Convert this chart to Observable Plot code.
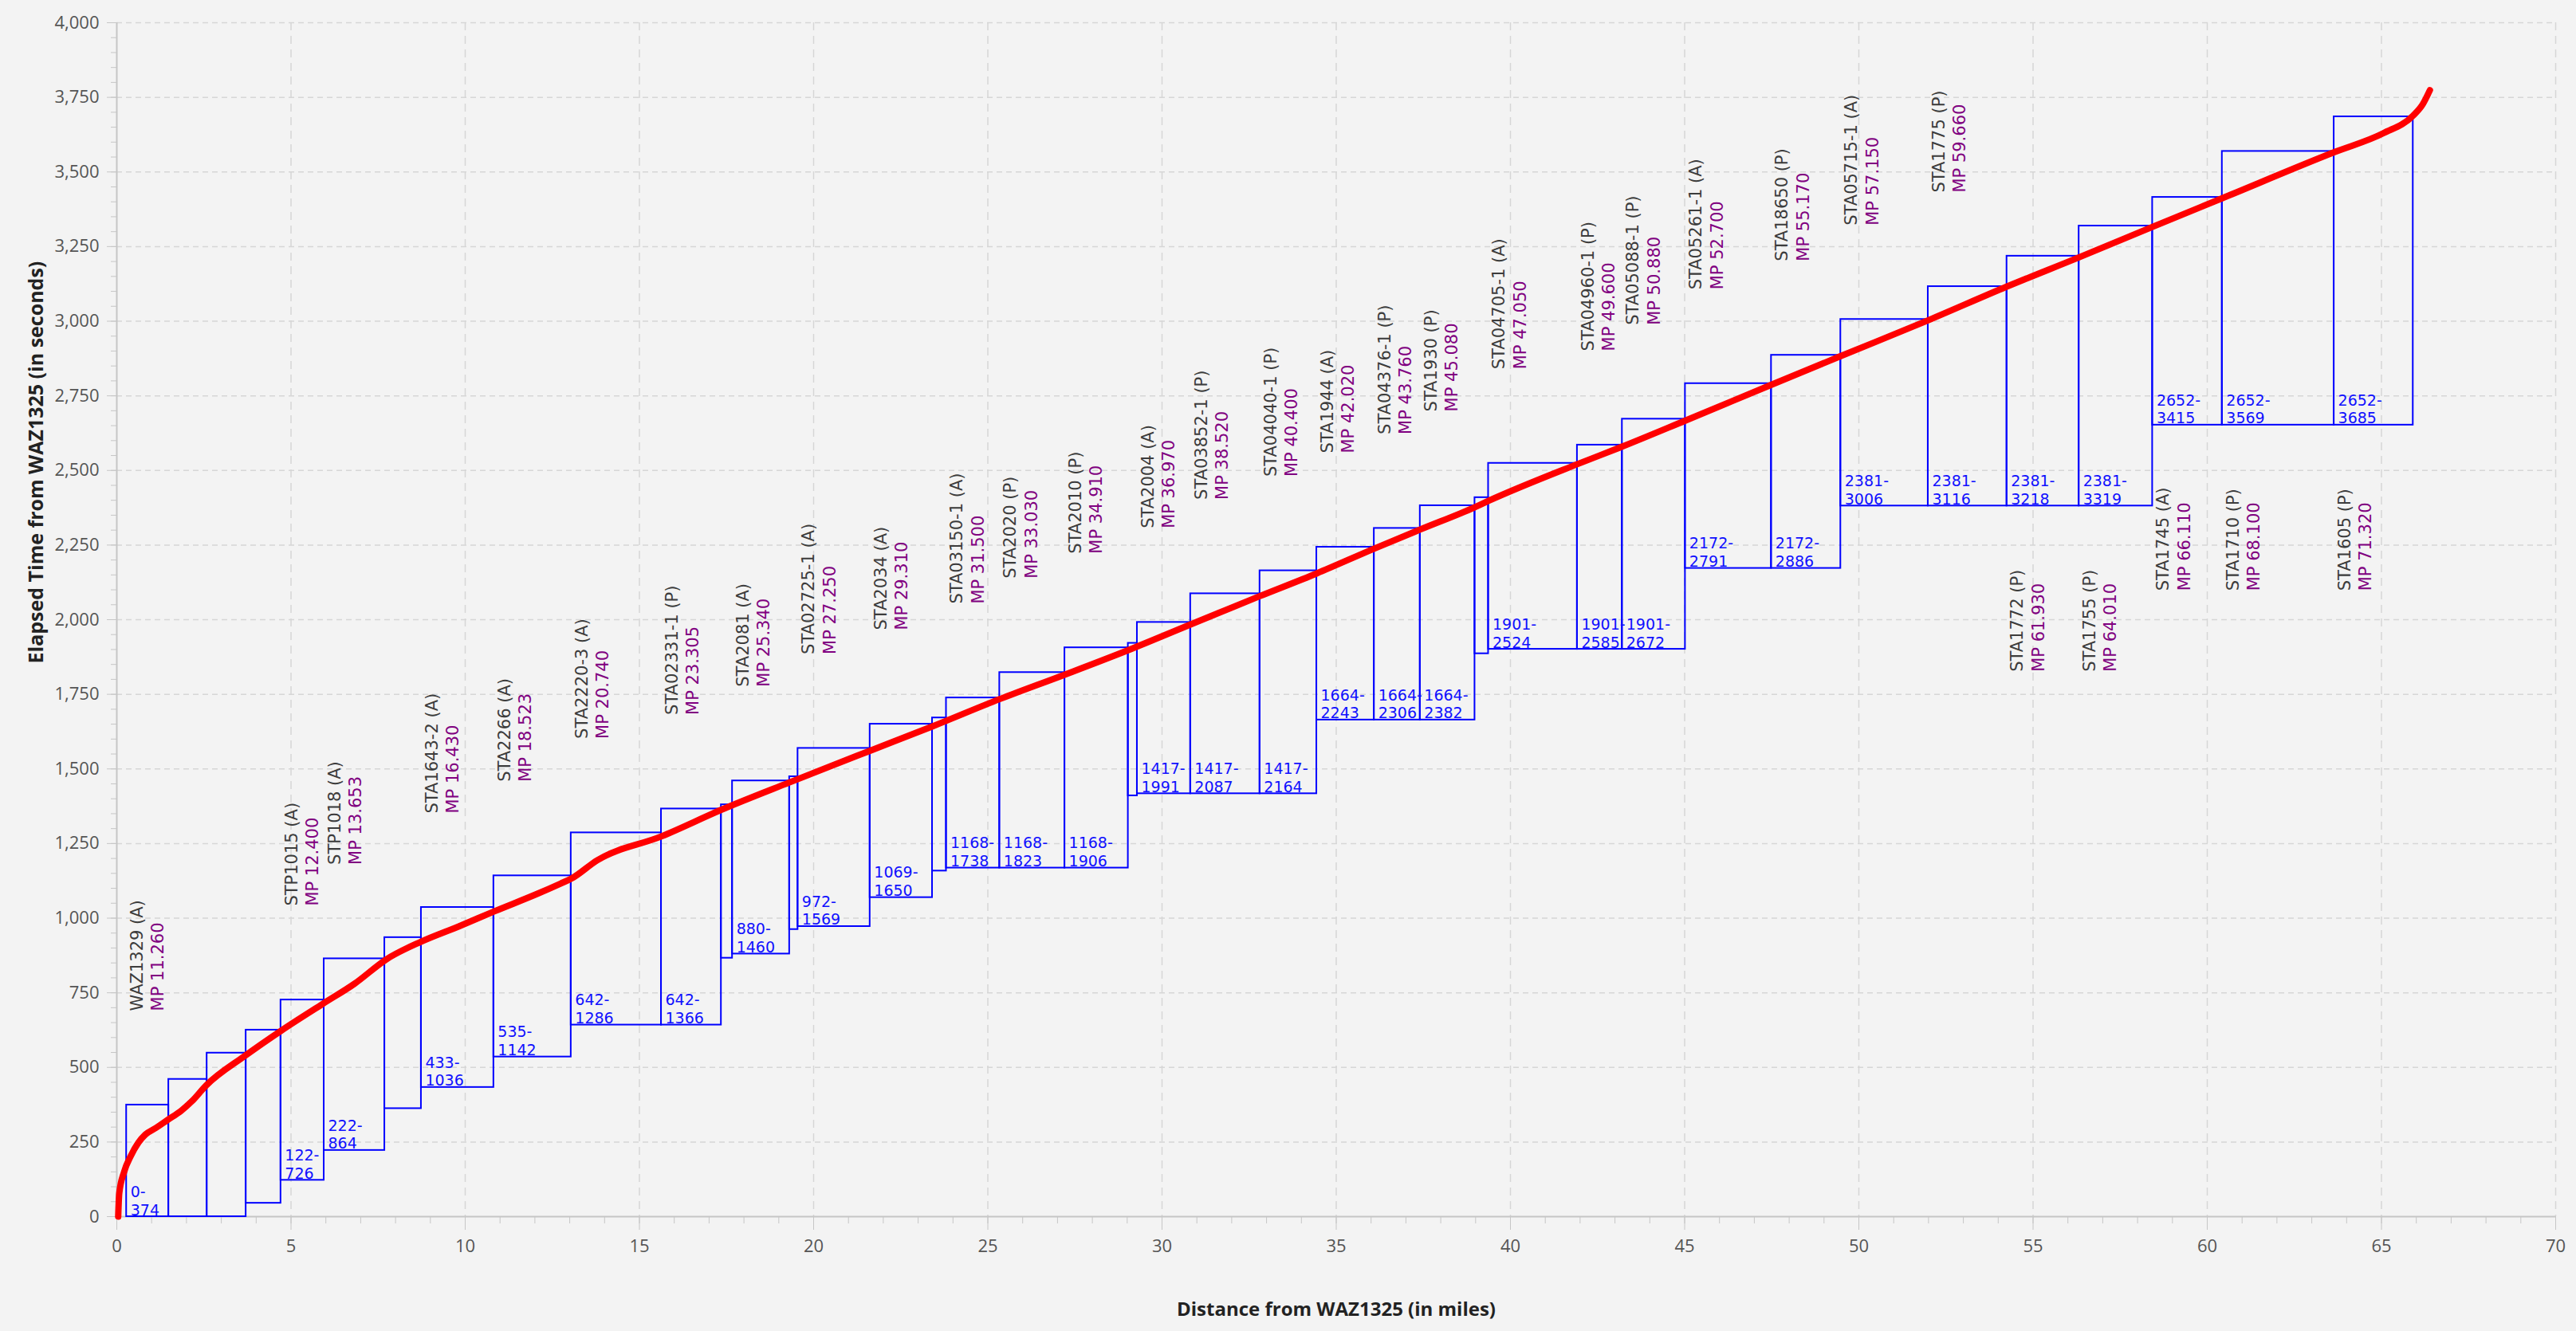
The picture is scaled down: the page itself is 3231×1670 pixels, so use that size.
<!DOCTYPE html>
<html><head><meta charset="utf-8">
<script src="https://cdn.jsdelivr.net/npm/d3@7"></script>
<script src="https://cdn.jsdelivr.net/npm/@observablehq/plot@0.6"></script>
<style>
html,body{margin:0;padding:0;background:#f3f3f3;}
</style></head><body><div id="chart"></div>
<script>
// Block boundaries along the route (miles) and the time window of each block (seconds)
const blockEdges = [0.28,1.49,2.59,3.71,4.71,5.95,7.69,8.74,10.82,13.04,15.63,17.35,17.67,19.31,19.55,21.62,23.41,23.81,25.34,27.21,29.03,29.29,30.82,32.81,34.44,36.09,37.41,38.98,39.37,41.92,43.21,45.02,47.49,49.48,51.99,54.25,56.32,58.43,60.43,63.64,65.91];
const blockLow  = [0,0,0,45,122,222,362,433,535,642,642,866,880,962,972,1069,1158,1168,1168,1168,1410,1417,1417,1417,1664,1664,1664,1886,1901,1901,1901,2172,2172,2381,2381,2381,2381,2652,2652,2652];
const blockHigh = [374,460,548,625,726,864,935,1036,1142,1286,1366,1380,1460,1474,1569,1650,1671,1738,1823,1906,1921,1991,2087,2164,2243,2306,2382,2409,2524,2585,2672,2791,2886,3006,3116,3218,3319,3415,3569,3685];

// Stations (signals) and the block that starts at each
const stationNames = ["WAZ1329 (A)","STP1015 (A)","STP1018 (A)","STA1643-2 (A)","STA2266 (A)","STA2220-3 (A)","STA02331-1 (P)","STA2081 (A)","STA02725-1 (A)","STA2034 (A)","STA03150-1 (A)","STA2020 (P)","STA2010 (P)","STA2004 (A)","STA03852-1 (P)","STA04040-1 (P)","STA1944 (A)","STA04376-1 (P)","STA1930 (P)","STA04705-1 (A)","STA04960-1 (P)","STA05088-1 (P)","STA05261-1 (A)","STA18650 (P)","STA05715-1 (A)","STA1775 (P)","STA1772 (P)","STA1755 (P)","STA1745 (A)","STA1710 (P)","STA1605 (P)"];
const stationMP = ["11.260","12.400","13.653","16.430","18.523","20.740","23.305","25.340","27.250","29.310","31.500","33.030","34.910","36.970","38.520","40.400","42.020","43.760","45.080","47.050","49.600","50.880","52.700","55.170","57.150","59.660","61.930","64.010","66.110","68.100","71.320"];
const stationBlock = [0,4,5,7,8,9,10,12,14,15,17,18,19,21,22,23,24,25,26,28,29,30,31,32,33,34,35,36,37,38,39];
const stationSide = ["above","above","above","above","above","above","above","above","above","above","above","above","above","above","above","above","above","above","above","above","above","above","above","above","above","above","below","below","below","below","below"];

// Train run: distance (miles) vs elapsed time (seconds)
const routeMiles   = [0.04,0.07,0.21,0.40,0.62,0.82,1.12,1.46,1.85,2.15,2.56,3.67,4.73,5.90,6.82,7.75,8.73,9.85,10.84,12.08,12.74,13.04,13.79,15.63,17.35,19.31,21.62,23.42,25.34,27.21,29.03,30.82,32.81,34.44,36.09,37.41,38.98,39.37,41.92,43.21,45.02,47.49,49.48,51.99,54.25,56.32,58.43,60.43,63.64,65.06,65.91,66.18,66.39];
const routeSeconds = [0,78,150,203,248,275,297,324,355,386,439,538,624,712,780,863,921,974,1023,1082,1116,1132,1194,1274,1363,1455,1561,1643,1734,1816,1898,1984,2079,2155,2238,2302,2377,2398,2521,2580,2667,2787,2883,3003,3116,3214,3316,3412,3566,3630,3689,3726,3774];

const xTicks = d3.range(0, 71, 5);
const xMinor = d3.range(0, 71, 1);
const yTicks = d3.range(0, 4001, 250);
const yMinor = d3.range(0, 4001, 50);
const xTitle = "Distance from WAZ1325 (in miles)";
const yTitle = "Elapsed Time from WAZ1325 (in seconds)";

const blocks = blockLow.map((lo, i) => ({x1: blockEdges[i], x2: blockEdges[i + 1], lo, hi: blockHigh[i]}));
const stations = stationNames.map((name, i) => {
  const b = blocks[stationBlock[i]];
  return {name, mp: "MP " + stationMP[i], x: b.x1, lo: b.lo, hi: b.hi, side: stationSide[i], range: `${b.lo}-\n${b.hi}`};
});
const route = routeMiles.map((m, i) => ({m, s: routeSeconds[i]}));
const above = stations.filter(d => d.side === "above");
const below = stations.filter(d => d.side === "below");

const gray = "#c6c6c6";
const labelFont = "DejaVu Sans";
const nameColor = "#3c3c3c";
const mpColor = "#800080";
const fmt = d3.format(",d");

const chart = Plot.plot({
  width: 3231, height: 1670,
  marginLeft: 146, marginRight: 26, marginTop: 28, marginBottom: 144,
  style: {background: "#f3f3f3", fontFamily: "Open Sans", fontSize: "21px", overflow: "visible"},
  x: {domain: [0, 70], axis: null, label: null},
  y: {domain: [0, 4000], axis: null, label: null},
  marks: [
    Plot.gridX(xTicks.filter(d => d > 0), {stroke: "#d6d6d6", strokeOpacity: 1, strokeWidth: 1.5, strokeDasharray: "10,7"}),
    Plot.gridY(yTicks.filter(d => d > 0), {stroke: "#d6d6d6", strokeOpacity: 1, strokeWidth: 1.5, strokeDasharray: "7,5"}),
    Plot.axisX(xMinor, {tickSize: 9, tickFormat: () => "", stroke: gray, label: null}),
    Plot.axisX(xTicks, {tickSize: 17, tickPadding: 12, tickFormat: fmt, stroke: gray, fill: "#555", fontSize: 22, label: null}),
    Plot.axisY(yMinor, {tickSize: 7, tickFormat: () => "", stroke: gray, label: null}),
    Plot.axisY(yTicks, {tickSize: 12, tickPadding: 10, tickFormat: fmt, stroke: gray, fill: "#555", fontSize: 22, label: null}),
    Plot.ruleX([0], {stroke: gray, strokeWidth: 2}),
    Plot.ruleY([0], {stroke: gray, strokeWidth: 2}),
    Plot.rect(blocks, {x1: "x1", x2: "x2", y1: "lo", y2: "hi", fill: "none", stroke: "#0000ff", strokeWidth: 2}),
    Plot.text(stations, {x: "x", y: "lo", text: "range", textAnchor: "start", lineAnchor: "bottom", dx: 5, dy: -2, lineHeight: 1.2, fontSize: 19, fontFamily: labelFont, fill: "#1010ff"}),
    Plot.line(route, {x: "m", y: "s", stroke: "#ff0000", strokeWidth: 8, curve: "monotone-x", strokeLinecap: "round"}),
    Plot.text(above, {x: "x", y: "hi", text: "name", rotate: -90, textAnchor: "start", dx: 13.5, dy: -118, fontSize: 21, fontFamily: labelFont, fill: nameColor}),
    Plot.text(above, {x: "x", y: "hi", text: "mp", rotate: -90, textAnchor: "start", dx: 40, dy: -118, fontSize: 21, fontFamily: labelFont, fill: mpColor}),
    Plot.text(below, {x: "x", y: "lo", text: "name", rotate: -90, textAnchor: "start", dx: 13.5, dy: 208, fontSize: 21, fontFamily: labelFont, fill: nameColor}),
    Plot.text(below, {x: "x", y: "lo", text: "mp", rotate: -90, textAnchor: "start", dx: 40, dy: 208, fontSize: 21, fontFamily: labelFont, fill: mpColor}),
    Plot.text([xTitle], {frameAnchor: "bottom", dy: 124, fontWeight: "bold", fontSize: 24, fill: "#222"}),
    Plot.text([yTitle], {frameAnchor: "left", rotate: -90, dx: -101, dy: 55, fontWeight: "bold", fontSize: 25, fill: "#222"})
  ]
});
document.getElementById("chart").appendChild(chart);
</script></body></html>
